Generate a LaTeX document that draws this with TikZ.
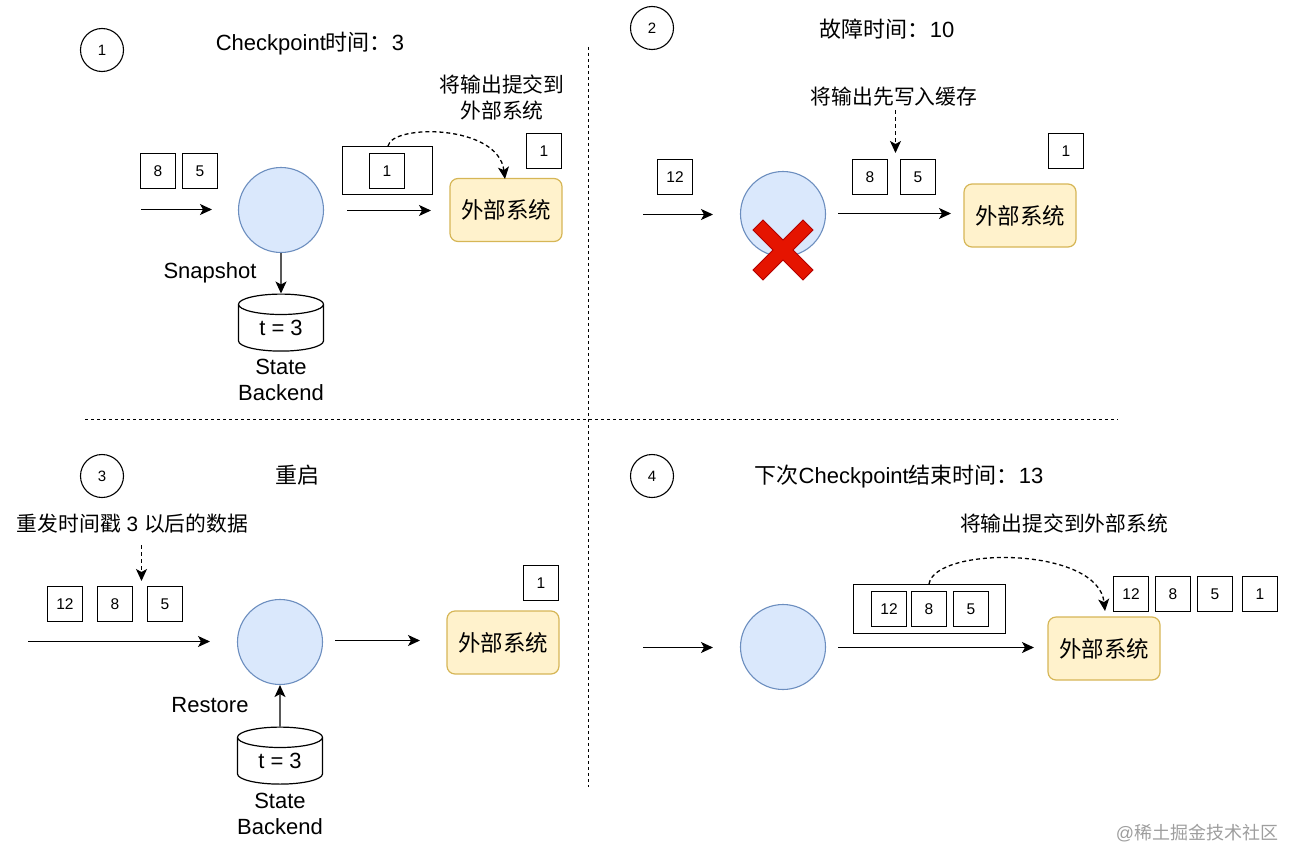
\documentclass[tikz,border=0pt]{standalone}
\usepackage{fontspec}
\setmainfont{Liberation Sans}
\newfontfamily\cjk{Noto Sans CJK SC}
\usetikzlibrary{arrows.meta,shapes.geometric}
\definecolor{procfill}{HTML}{DAE8FC}
\definecolor{procline}{HTML}{6C8EBF}
\definecolor{extfill}{HTML}{FFF2CC}
\definecolor{extline}{HTML}{D6B656}
\definecolor{crossfill}{HTML}{E51400}
\definecolor{crossline}{HTML}{B20000}
\newcommand{\titlefont}{\fontsize{22}{26}\selectfont}
\newcommand{\hintfont}{\fontsize{20.8}{26}\selectfont}
\tikzset{
  x=1pt,y=-1pt,
  txt/.style={inner sep=0pt,align=center,font=\titlefont},
  hinttxt/.style={inner sep=0pt,align=center,font=\hintfont\cjk},
  sq/.style={draw,line width=1.3pt,minimum size=35pt,inner sep=0pt,font=\fontsize{15.5}{18}\selectfont},
  batch/.style={draw,line width=1.3pt,inner sep=0pt},
  ext/.style={draw=extline,fill=extfill,line width=1.2pt,rounded corners=8pt,minimum width=112pt,minimum height=63pt,inner sep=0pt,font=\fontsize{22.5}{26}\selectfont\cjk},
  proc/.style={circle,draw=procline,fill=procfill,line width=1.1pt,minimum size=85pt,inner sep=0pt},
  num/.style={circle,draw,line width=1.1pt,minimum size=43pt,inner sep=0pt,font=\fontsize{15}{18}\selectfont},
  store/.style={cylinder,shape border rotate=90,aspect=0.47,draw,line width=1.2pt,minimum width=85pt,minimum height=57pt,inner sep=0pt,font=\titlefont},
  flow/.style={draw,line width=1.3pt,-{Stealth[length=12pt,width=11pt,inset=3pt]}},
  hint/.style={flow,dash pattern=on 4pt off 3pt},
  divider/.style={draw,line width=1.2pt,dash pattern=on 3pt off 3pt},
}
\begin{document}
\begin{tikzpicture}
\useasboundingbox (0,0) rectangle (1300,867);

% dividers between the four stages
\coordinate (vt) at (588.5,47); \coordinate (vb) at (588.5,787);
\coordinate (hl) at (85,419.5); \coordinate (hr) at (1118,419.5);
\path[divider] (vt) -- (vb);
\path[divider] (hl) -- (hr);

% stage 1: checkpoint
\node[num] (n1) at (102,50) {1};
\node[txt] (t1) at (310,43.5) {Checkpoint{\cjk 时间：}3};
\node[hinttxt] (h1) at (502,97) {将输出提交到\\外部系统};
\node[sq] (a8) at (158,171) {8};
\node[sq] (a5) at (200,171) {5};
\node[proc] (p1) at (281,210) {};
\node[batch,minimum width=90pt,minimum height=48pt] (b1) at (387.5,170.5) {};
\node[sq] (a1) at (387,171) {1};
\node[ext] (e1) at (506,210) {外部系统};
\node[sq] (r1) at (544,151) {1};
\node[store] (c1) at (281,328) {t = 3};
\node[txt] (s1) at (210,273) {Snapshot};
\node[txt] (l1) at (281,380) {State\\Backend};
\coordinate (i1a) at (141,209.5); \coordinate (i1b) at (212,209.5);
\coordinate (o1a) at (347,210.5); \coordinate (o1b) at (431,210.5);
\path[flow] (i1a) -- (i1b);
\path[flow] (o1a) -- (o1b);
\path[flow] (p1) -- (c1.north);
\coordinate (f1) at (388,146); \coordinate (g1) at (505,179);
\path[hint] (f1) .. controls (392,124) and (498,124) .. (g1);

% stage 2: failure
\node[num] (n2) at (652,28) {2};
\node[txt] (t2) at (887,29) {{\cjk 故障时间：}10};
\node[hinttxt] (h2) at (894,97) {将输出先写入缓存};
\node[sq] (d12) at (675,177) {12};
\node[proc] (p2) at (783,214) {};
\node[sq] (d8) at (870,177) {8};
\node[sq] (d5) at (918,177) {5};
\node[ext] (e2) at (1020,215.5) {外部系统};
\node[sq] (r2) at (1066,151) {1};
\coordinate (i2a) at (643,214.5); \coordinate (i2b) at (713,214.5);
\coordinate (o2a) at (838,213.5); \coordinate (o2b) at (951,213.5);
\coordinate (w2a) at (895.5,110); \coordinate (w2b) at (895.5,153);
\path[flow] (i2a) -- (i2b);
\path[flow] (o2a) -- (o2b);
\path[hint] (w2a) -- (w2b);
\draw[fill=crossfill,draw=crossline,line width=0.8pt]
  (753,230) -- (763,220) -- (783,240) -- (803,220) -- (813,230) -- (793,250)
  -- (813,270) -- (803,280) -- (783,260) -- (763,280) -- (753,270) -- (773,250) -- cycle;

% stage 3: restart
\node[num] (n3) at (102,476) {3};
\node[txt,font=\titlefont\cjk] (t3) at (297,475) {重启};
\node[txt,font=\hintfont] (h3) at (132.5,524) {{\cjk 重发时间戳} 3 {\cjk 以后的数据}};
\node[sq] (k12) at (65,604) {12};
\node[sq] (k8) at (115,604) {8};
\node[sq] (k5) at (165,604) {5};
\node[proc] (p3) at (280,642) {};
\node[ext] (e3) at (503,642.5) {外部系统};
\node[sq] (r3) at (541,583) {1};
\node[store] (c3) at (280,761) {t = 3};
\node[txt] (s3) at (210,705) {Restore};
\node[txt] (l3) at (280,814) {State\\Backend};
\coordinate (i3a) at (28,641.5); \coordinate (i3b) at (210,641.5);
\coordinate (o3a) at (335,640.5); \coordinate (o3b) at (420,640.5);
\coordinate (w3a) at (141.5,545); \coordinate (w3b) at (141.5,581);
\path[flow] (i3a) -- (i3b);
\path[flow] (o3a) -- (o3b);
\path[hint] (w3a) -- (w3b);
\path[flow] (c3.north) -- (p3);

% stage 4: next checkpoint
\node[num] (n4) at (652,476) {4};
\node[txt] (t4) at (899,477) {{\cjk 下次}Checkpoint{\cjk 结束时间：}13};
\node[hinttxt] (h4) at (1064,524) {将输出提交到外部系统};
\node[proc] (p4) at (783,647) {};
\node[batch,minimum width=152pt,minimum height=49pt] (b4) at (929.5,609) {};
\node[sq] (m12) at (889,609) {12};
\node[sq] (m8) at (929,609) {8};
\node[sq] (m5) at (971,609) {5};
\node[ext] (e4) at (1104,648.5) {外部系统};
\node[sq] (r12) at (1131,594) {12};
\node[sq] (r8) at (1173,594) {8};
\node[sq] (r5) at (1215,594) {5};
\node[sq] (r41) at (1260,594) {1};
\coordinate (i4a) at (643,647.5); \coordinate (i4b) at (713,647.5);
\coordinate (o4a) at (838,647.5); \coordinate (o4b) at (1034,647.5);
\path[flow] (i4a) -- (i4b);
\path[flow] (o4a) -- (o4b);
\coordinate (f4) at (929,584); \coordinate (g4) at (1105,611);
\path[hint] (f4) .. controls (935,546) and (1098,546) .. (g4);

% site mark
\node[txt,font=\fontsize{18}{20}\selectfont,text=black!38] (mark) at (1197,833) {@{\cjk 稀土掘金技术社区}};
\end{tikzpicture}
\end{document}
